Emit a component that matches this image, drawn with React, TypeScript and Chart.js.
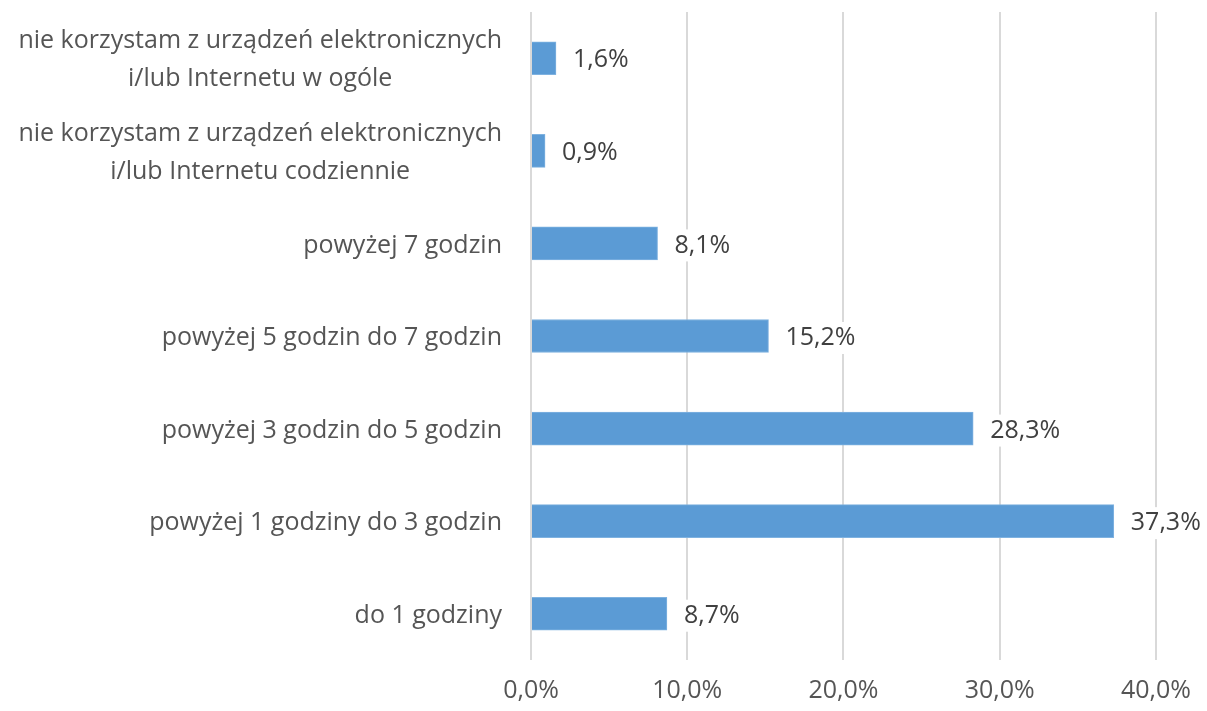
import React, { useEffect, useRef } from "react";
import { Chart, registerables } from "chart.js";
Chart.register(...registerables);

const categories: string[][] = [
  ["nie korzystam z urządzeń elektronicznych", "i/lub Internetu w ogóle"],
  ["nie korzystam z urządzeń elektronicznych", "i/lub Internetu codziennie"],
  ["powyżej 7 godzin"],
  ["powyżej 5 godzin do 7 godzin"],
  ["powyżej 3 godzin do 5 godzin"],
  ["powyżej 1 godziny do 3 godzin"],
  ["do 1 godziny"],
];
const values: number[] = [1.6, 0.9, 8.1, 15.2, 28.3, 37.3, 8.7];
const xMin = 0;
const xMax = 40;
const xStep = 10;

const FONT = "'Open Sans', 'Noto Sans', sans-serif";
const FONT_SIZE = 25;
const fmt = (v: number) => v.toFixed(1).replace(".", ",") + "%";

const labelsPlugin = {
  id: "customLabels",
  afterDatasetsDraw(chart: any) {
    const ctx = chart.ctx;
    const meta = chart.getDatasetMeta(0);
    ctx.save();
    ctx.font = `${FONT_SIZE}px ${FONT}`;
    ctx.textBaseline = "middle";
    // data labels
    meta.data.forEach((bar: any, i: number) => {
      const text = fmt(values[i]);
      const x = bar.x + 17;
      const y = bar.y + 2;
      const w = ctx.measureText(text).width;
      ctx.fillStyle = "#ffffff";
      ctx.fillRect(x - 3, y - 16, w + 6, 32);
      ctx.fillStyle = "#404040";
      ctx.textAlign = "left";
      ctx.fillText(text, x, y);
    });
    // category labels
    const right = chart.chartArea.left - 29;
    const lineH = 38;
    meta.data.forEach((bar: any, i: number) => {
      const lines = categories[i];
      const maxW = Math.max(...lines.map((l) => ctx.measureText(l).width));
      const cx = right - maxW / 2;
      const y0 = bar.y + 2 - ((lines.length - 1) * lineH) / 2;
      ctx.fillStyle = "#555555";
      ctx.textAlign = "center";
      lines.forEach((l, k) => ctx.fillText(l, cx, y0 + k * lineH));
    });
    ctx.restore();
  },
};

export default function App() {
  const ref = useRef<HTMLCanvasElement | null>(null);
  useEffect(() => {
    document.body.style.margin = "0";
    const chart = new Chart(ref.current as HTMLCanvasElement, {
      type: "bar",
      data: {
        labels: categories.map((c) => c.join(" ")),
        datasets: [
          {
            data: values,
            backgroundColor: "#5b9bd5",
            borderColor: "#7fb2e0",
            borderWidth: 1,
            barThickness: 33,
          },
        ],
      },
      options: {
        indexAxis: "y",
        responsive: false,
        animation: false,
        layout: { padding: { left: 531, right: 51, top: 12, bottom: 0 } },
        plugins: { legend: { display: false }, tooltip: { enabled: false } },
        scales: {
          x: {
            min: xMin,
            max: xMax,
            ticks: {
              stepSize: xStep,
              callback: (v: any) => fmt(Number(v)),
              color: "#555555",
              font: { family: FONT, size: FONT_SIZE },
              padding: 16,
              maxRotation: 0,
            },
            grid: { color: "#d9d9d9", lineWidth: 2, drawTicks: false },
            border: { display: false },
            afterFit: (scale: any) => {
              scale.height = 51;
            },
          },
          y: { display: false },
        },
      },
      plugins: [labelsPlugin],
    } as any);
    return () => chart.destroy();
  }, []);
  return (
    <div style={{ width: 1207, height: 711 }}>
      <canvas ref={ref} width={1207} height={711} style={{ display: "block" }} />
    </div>
  );
}
